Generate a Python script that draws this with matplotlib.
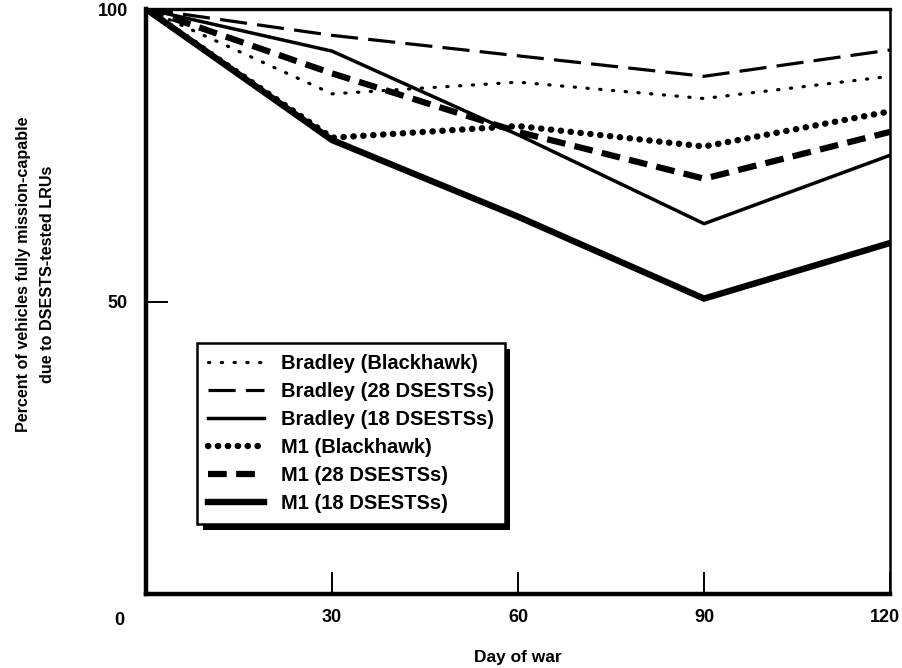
import matplotlib.pyplot as plt
import matplotlib.patheffects as pe
from matplotlib.transforms import ScaledTranslation

plt.rcParams['font.family'] = ['Liberation Sans', 'DejaVu Sans']
plt.rcParams['font.weight'] = 'bold'

days = [0, 30, 60, 90, 120]

bradley_blackhawk = [100, 85.5, 87.5, 84.7, 88.5]
bradley_28 = [100, 95.5, 92, 88.5, 93]
bradley_18 = [100, 92.8, 78.5, 63.3, 75]
m1_blackhawk = [100, 78, 80, 76.5, 82.5]
m1_28 = [100, 89, 79, 71, 79]
m1_18 = [100, 77.6, 64.5, 50.5, 60]

labels = ["Bradley (Blackhawk)", "Bradley (28 DSESTSs)", "Bradley (18 DSESTSs)",
          "M1 (Blackhawk)", "M1 (28 DSESTSs)", "M1 (18 DSESTSs)"]

fig = plt.figure(figsize=(9.03, 6.68), dpi=100)
ax = fig.add_axes([0.1617, 0.1108, 0.824, 0.8757])

ax.plot(days, bradley_blackhawk, color='k', lw=2.3, linestyle=(0, (0.4, 3.6)),
        dash_capstyle='round', label=labels[0])
ax.plot(days, bradley_28, color='k', lw=2.3, linestyle=(0, (8.5, 3.2)), label=labels[1])
ax.plot(days, bradley_18, color='k', lw=2.5, label=labels[2])
ax.plot(days, m1_blackhawk, color='k', lw=4.6, linestyle=(0, (0.05, 1.5)),
        dash_capstyle='round', label=labels[3])
ax.plot(days, m1_28, color='k', lw=4.5, linestyle=(0, (3, 1.5)), label=labels[4])
ax.plot(days, m1_18, color='k', lw=4.6, solid_joinstyle='miter', label=labels[5])

ax.set_xlim(0, 120)
ax.set_ylim(0, 100)

ax.set_xticks([30, 60, 90, 120])
ax.set_xticklabels(["30", "60", "90", "120"])
ax.set_yticks([50, 100])
ax.set_yticklabels(["50", "100"])
ax.tick_params(axis='both', direction='in', length=16, width=1.4, color='k',
               labelsize=13, pad=11)
ax.tick_params(axis='y', pad=13)
# keep the last label inside the canvas
last = ax.get_xticklabels()[-1]
last.set_transform(last.get_transform() + ScaledTranslation(-4 / 72, 0, fig.dpi_scale_trans))
ax.text(-4.3, -3.0, "0", ha='center', va='top', fontsize=13, fontweight='bold')

ax.spines['left'].set_linewidth(3.2)
ax.spines['bottom'].set_linewidth(3.2)
ax.spines['top'].set_linewidth(2.4)
ax.spines['right'].set_linewidth(1.8)

ax.set_xlabel("Day of war", fontsize=12.5, fontweight='bold', labelpad=17)
fig.text(0.0388, 0.59, "Percent of vehicles fully mission-capable\ndue to DSESTS-tested LRUs",
         rotation=90, ha='center', va='center', fontsize=11.6, fontweight='bold',
         linespacing=1.75)

leg = ax.legend(loc='upper left', bbox_to_anchor=(0.0685, 0.429), borderaxespad=0,
                fontsize=14.5, handlelength=2.8, labelspacing=0.45, borderpad=0.55,
                handletextpad=0.8, frameon=True, fancybox=False)
leg.get_frame().set_edgecolor('k')
leg.get_frame().set_linewidth(1.8)
leg.get_frame().set_alpha(1)
leg.legendPatch.set_path_effects([
    pe.SimplePatchShadow(offset=(4, -4), shadow_rgbFace='k', alpha=1),
    pe.Normal()])

fig.savefig("out.png", dpi=100)
